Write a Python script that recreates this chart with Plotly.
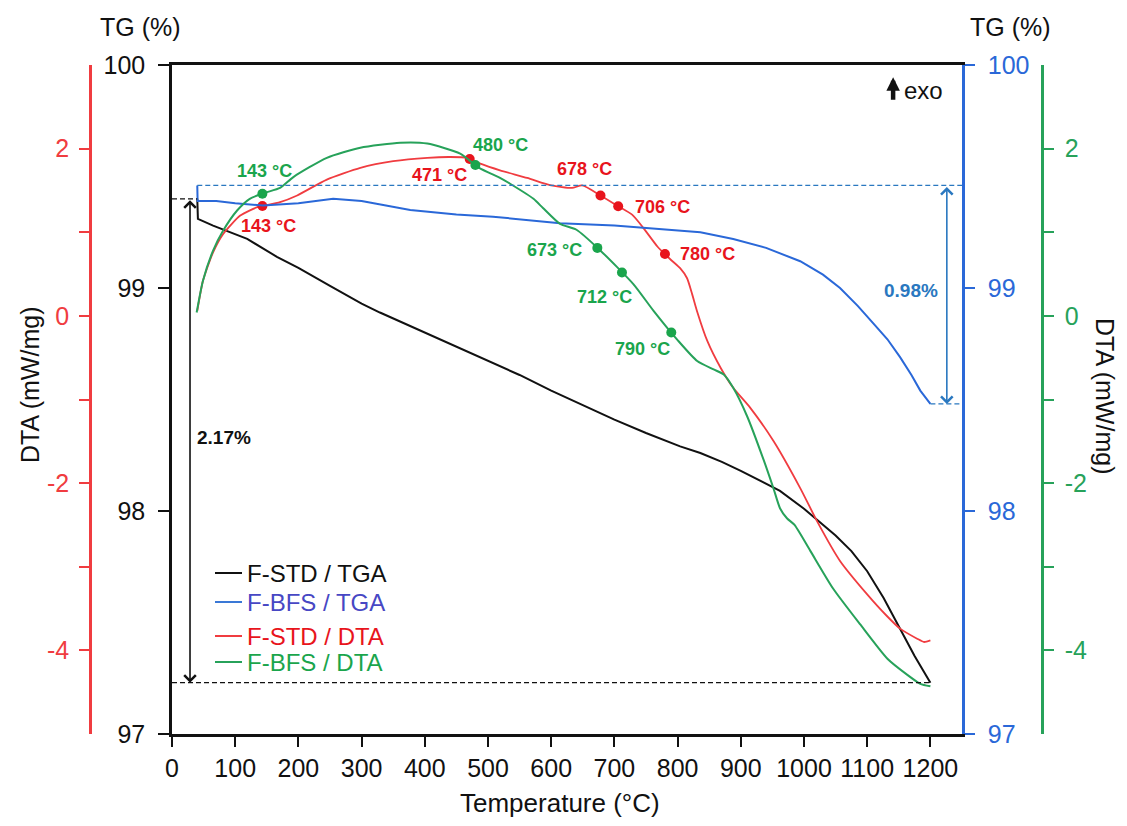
import numpy as np
import plotly.graph_objects as go

# ---------------- data ----------------
# F-STD thermogravimetric curve (TG, %)
temp_std_tg = [40, 41, 65, 119, 166, 200, 250, 300, 329, 400, 488, 550, 600, 646, 700,
               750, 804, 836, 870, 900, 942, 962, 1000, 1021, 1050, 1075, 1100, 1126,
               1150, 1175, 1200]
tg_std = [99.40, 99.31, 99.28, 99.22, 99.14, 99.09, 99.01, 98.93, 98.89, 98.80, 98.69,
          98.61, 98.54, 98.48, 98.41, 98.35, 98.29, 98.26, 98.22, 98.18, 98.12, 98.09,
          98.01, 97.96, 97.89, 97.82, 97.73, 97.61, 97.48, 97.35, 97.23]

# F-BFS thermogravimetric curve (TG, %)
temp_bfs_tg = [40, 40.5, 70, 100, 144, 200, 255, 300, 377, 450, 508, 614, 700, 783, 836,
               888, 940, 994, 1030, 1057, 1085, 1110, 1132, 1152, 1170, 1184, 1200]
tg_bfs = [99.46, 99.39, 99.39, 99.38, 99.37, 99.38, 99.40, 99.39, 99.35, 99.33, 99.32,
          99.29, 99.28, 99.26, 99.25, 99.22, 99.18, 99.12, 99.06, 99.00, 98.92, 98.84,
          98.77, 98.69, 98.61, 98.54, 98.48]

# F-STD differential thermal analysis (mW/mg)
temp_std_dta = [40, 49, 65, 81, 108, 135, 147, 171, 198, 245, 298, 350, 404, 440, 467,
                488, 519, 562, 600, 633, 649, 678, 704, 728, 746, 768, 788, 804, 815,
                823, 831, 847, 868, 888, 915, 952, 994, 1021, 1057, 1100, 1130, 1152,
                1179, 1190, 1200]
dta_std = [0.06, 0.42, 0.76, 0.98, 1.20, 1.30, 1.32, 1.36, 1.44, 1.63, 1.77, 1.85, 1.89,
           1.90, 1.89, 1.82, 1.74, 1.65, 1.56, 1.53, 1.56, 1.44, 1.32, 1.21, 1.05, 0.83,
           0.68, 0.57, 0.45, 0.26, 0.05, -0.30, -0.62, -0.86, -1.10, -1.50, -2.06,
           -2.46, -2.93, -3.33, -3.58, -3.74, -3.86, -3.90, -3.88]

# F-BFS differential thermal analysis (mW/mg)
temp_bfs_dta = [39, 49, 65, 81, 103, 123, 146, 171, 192, 245, 298, 361, 404, 456, 486,
                519, 535, 572, 587, 614, 640, 678, 730, 762, 800, 831, 857, 873, 888,
                910, 936, 952, 962, 973, 985, 1010, 1046, 1089, 1132, 1163, 1184, 1200]
dta_bfs = [0.04, 0.42, 0.78, 1.02, 1.26, 1.40, 1.47, 1.53, 1.66, 1.89, 2.01, 2.07, 2.06,
           1.94, 1.77, 1.65, 1.58, 1.40, 1.29, 1.10, 1.03, 0.78, 0.38, 0.06, -0.29,
           -0.54, -0.64, -0.70, -0.86, -1.20, -1.72, -2.07, -2.30, -2.42, -2.50, -2.81,
           -3.26, -3.69, -4.10, -4.29, -4.40, -4.43]

# characteristic temperatures marked on the DTA curves (°C)
events_std = [143, 471, 678, 706, 780]
events_bfs = [143, 480, 673, 712, 790]

series_names = ["F-STD / TGA", "F-BFS / TGA", "F-STD / DTA", "F-BFS / DTA"]

x_ticks = [0, 100, 200, 300, 400, 500, 600, 700, 800, 900, 1000, 1100, 1200]
tg_ticks = [97, 98, 99, 100]
dta_ticks = [-4, -3, -2, -1, 0, 1, 2]
dta_ticktext = ["-4", "", "-2", "", "0", "", "2"]

# ---------------- styling ----------------
BLACK = "#111111"
BLUE = "#2a68d8"
RED = "#f03c40"
GREEN = "#27a25a"
RED_TXT = "#e8141c"
GREEN_TXT = "#1aa54c"
BLUE_TXT = "#2a78c0"
FONT = "Liberation Sans, Arial, sans-serif"

# label offsets (pixels) relative to each event marker
std_offsets = [(6, 20), (-30, 16), (-16, -26), (44, 1), (43, 0)]
bfs_offsets = [(2, -23), (25, -20), (-43, 2), (-17, 24), (-29, 17)]

# plot-area geometry in paper units
L, R, T, B = 60, 60, 65, 92
W_PX, H_PX = 1127, 826
PW = W_PX - L - R
PH = H_PX - T - B


def px_x(px):
    return (px - L) / PW


def px_y(py):
    return 1 - (py - T) / PH


fig = go.Figure()

fig.add_trace(go.Scatter(x=temp_std_tg, y=tg_std, mode="lines",
                         line=dict(color=BLACK, width=2), name=series_names[0],
                         showlegend=False, yaxis="y"))
fig.add_trace(go.Scatter(x=temp_bfs_tg, y=tg_bfs, mode="lines",
                         line=dict(color=BLUE, width=2), name=series_names[1],
                         showlegend=False, yaxis="y3"))
fig.add_trace(go.Scatter(x=temp_std_dta, y=dta_std, mode="lines",
                         line=dict(color=RED, width=1.8, shape="spline", smoothing=0.6),
                         name=series_names[2], showlegend=False, yaxis="y2"))
fig.add_trace(go.Scatter(x=temp_bfs_dta, y=dta_bfs, mode="lines",
                         line=dict(color=GREEN, width=2, shape="spline", smoothing=0.6),
                         name=series_names[3], showlegend=False, yaxis="y4"))

# event markers sit on the curves at the stated temperatures
ev_std_y = np.interp(events_std, temp_std_dta, dta_std)
ev_bfs_y = np.interp(events_bfs, temp_bfs_dta, dta_bfs)
fig.add_trace(go.Scatter(x=events_std, y=ev_std_y, mode="markers",
                         marker=dict(color=RED_TXT, size=10), showlegend=False,
                         yaxis="y2"))
fig.add_trace(go.Scatter(x=events_bfs, y=ev_bfs_y, mode="markers",
                         marker=dict(color=GREEN_TXT, size=10), showlegend=False,
                         yaxis="y4"))

annotations = []
for t, v, (dx, dy) in zip(events_std, ev_std_y, std_offsets):
    annotations.append(dict(x=t, y=v, xref="x", yref="y2", text=f"<b>{t} °C</b>",
                            showarrow=False, xshift=dx, yshift=-dy,
                            xanchor="center", yanchor="middle",
                            font=dict(family=FONT, size=18, color=RED_TXT)))
for t, v, (dx, dy) in zip(events_bfs, ev_bfs_y, bfs_offsets):
    annotations.append(dict(x=t, y=v, xref="x", yref="y4", text=f"<b>{t} °C</b>",
                            showarrow=False, xshift=dx, yshift=-dy,
                            xanchor="center", yanchor="middle",
                            font=dict(family=FONT, size=18, color=GREEN_TXT)))

# total mass losses
loss_std = tg_std[0] - tg_std[-1]
loss_bfs = tg_bfs[0] - tg_bfs[-1]
x_arrow_std = 28.5
x_arrow_bfs = 1226


def title(px, py, text, size=25, angle=0):
    return dict(x=px_x(px), y=px_y(py), xref="paper", yref="paper", text=text,
                textangle=angle, showarrow=False, xanchor="center", yanchor="middle",
                font=dict(family=FONT, size=size, color=BLACK))


annotations += [
    dict(x=x_arrow_std, y=tg_std[-1], ax=x_arrow_std, ay=tg_std[0], xref="x", yref="y",
         axref="x", ayref="y", text="", showarrow=True, arrowside="end+start",
         arrowhead=4, startarrowhead=4, arrowsize=1.4, startarrowsize=1.4,
         arrowwidth=1.6, arrowcolor=BLACK),
    dict(x=82, y=98.33, xref="x", yref="y", text=f"<b>{loss_std:.2f}%</b>",
         showarrow=False, xanchor="center", yanchor="middle",
         font=dict(family=FONT, size=19, color=BLACK)),
    dict(x=x_arrow_bfs, y=tg_bfs[-1], ax=x_arrow_bfs, ay=tg_bfs[0], xref="x", yref="y3",
         axref="x", ayref="y3", text="", showarrow=True, arrowside="end+start",
         arrowhead=4, startarrowhead=4, arrowsize=1.4, startarrowsize=1.4,
         arrowwidth=1.6, arrowcolor=BLUE_TXT),
    dict(x=1170, y=98.99, xref="x", yref="y3", text=f"<b>{loss_bfs:.2f}%</b>",
         showarrow=False, xanchor="center", yanchor="middle",
         font=dict(family=FONT, size=19, color=BLUE_TXT)),
    # exothermic direction
    dict(x=1141, y=99.945, xref="x", yref="y", ax=0, ay=24, text="", showarrow=True,
         arrowhead=2, arrowsize=0.6, arrowwidth=4.5, arrowcolor=BLACK),
    dict(x=1155, y=99.885, xref="x", yref="y", text="exo", showarrow=False,
         xanchor="left", yanchor="middle",
         font=dict(family=FONT, size=24, color=BLACK)),
    # axis titles
    title(140, 27, "TG (%)"),
    title(1010, 27, "TG (%)"),
    title(30, 385, "DTA (mW/mg)", angle=-90),
    title(1105, 396, "DTA (mW/mg)", angle=90),
    title(560, 803, "Temperature (°C)", size=26),
]

DASH = "5px,3px"
shapes = [
    dict(type="line", xref="x", yref="y", x0=0, x1=temp_std_tg[0],
         y0=tg_std[0], y1=tg_std[0], line=dict(color=BLACK, width=1.2, dash=DASH)),
    dict(type="line", xref="x", yref="y", x0=0, x1=temp_std_tg[-1],
         y0=tg_std[-1], y1=tg_std[-1], line=dict(color=BLACK, width=1.2, dash=DASH)),
    dict(type="line", xref="x", yref="y3", x0=temp_bfs_tg[0], x1=1250,
         y0=tg_bfs[0], y1=tg_bfs[0], line=dict(color=BLUE_TXT, width=1.2, dash=DASH)),
    dict(type="line", xref="x", yref="y3", x0=temp_bfs_tg[-1], x1=1250,
         y0=tg_bfs[-1], y1=tg_bfs[-1], line=dict(color=BLUE_TXT, width=1.2, dash=DASH)),
]

# legend block: short line sample followed by coloured label
legend_rows_px = [573, 602, 636, 662]
legend_line_colors = [BLACK, "#3a78d6", RED, GREEN]
legend_text_colors = [BLACK, "#4747c4", RED_TXT, GREEN_TXT]
for name, row, lc, tc in zip(series_names, legend_rows_px, legend_line_colors,
                             legend_text_colors):
    shapes.append(dict(type="line", xref="paper", yref="paper",
                       x0=px_x(215), x1=px_x(242), y0=px_y(row), y1=px_y(row),
                       line=dict(color=lc, width=2)))
    annotations.append(dict(x=px_x(245), y=px_y(row), xref="paper", yref="paper",
                            text=name, showarrow=False, xanchor="left",
                            yanchor="middle",
                            font=dict(family=FONT, size=24, color=tc)))

tick_font = dict(family=FONT, size=25)

fig.update_layout(
    width=W_PX, height=H_PX,
    margin=dict(l=L, r=R, t=T, b=B),
    paper_bgcolor="white", plot_bgcolor="white",
    font=dict(family=FONT, color=BLACK),
    showlegend=False,
    xaxis=dict(domain=[px_x(172), px_x(962)], range=[0, 1250], tickvals=x_ticks,
               ticks="outside", ticklen=10, tickwidth=2, tickcolor=BLACK,
               showline=True, linecolor=BLACK, linewidth=2.5, mirror=True,
               showgrid=False, zeroline=False,
               tickfont=dict(tick_font, color=BLACK), anchor="y"),
    yaxis=dict(range=[97, 100], tickvals=tg_ticks, ticks="outside", ticklen=11,
               tickwidth=2, tickcolor=BLACK, showline=True, linecolor=BLACK,
               linewidth=2.5, showgrid=False, zeroline=False, ticklabelstandoff=8,
               tickfont=dict(tick_font, color=BLACK), anchor="x"),
    yaxis2=dict(range=[-5, 3], tickvals=dta_ticks, ticktext=dta_ticktext,
                overlaying="y", side="left", anchor="free", position=px_x(90),
                ticks="outside", ticklen=10, tickwidth=2, tickcolor=RED,
                showline=True, linecolor=RED, linewidth=2.5, showgrid=False,
                zeroline=False, ticklabelstandoff=5, tickfont=dict(tick_font, color=RED)),
    yaxis3=dict(range=[97, 100], tickvals=tg_ticks, overlaying="y", side="right",
                anchor="x", ticks="outside", ticklen=10, tickwidth=2, tickcolor=BLUE,
                showline=True, linecolor=BLUE, linewidth=2.5, showgrid=False,
                zeroline=False, ticklabelstandoff=8, tickfont=dict(tick_font, color=BLUE)),
    yaxis4=dict(range=[-5, 3], tickvals=dta_ticks, ticktext=dta_ticktext,
                overlaying="y", side="right", anchor="free", position=px_x(1042),
                ticks="outside", ticklen=10, tickwidth=2, tickcolor=GREEN,
                showline=True, linecolor=GREEN, linewidth=2.5, showgrid=False,
                zeroline=False, ticklabelstandoff=6, tickfont=dict(tick_font, color=GREEN)),
    annotations=annotations,
    shapes=shapes,
)

fig.write_html("out.html")
